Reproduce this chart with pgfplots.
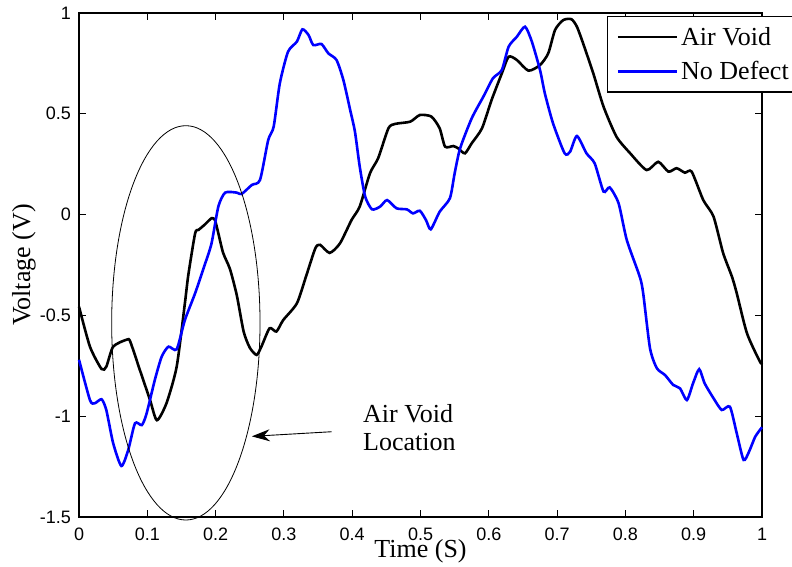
\documentclass[border=0pt]{standalone}
\usepackage{fontspec}
\setmainfont{Liberation Serif}
\newfontfamily\arial{Liberation Sans}
\usepackage{pgfplots}
\pgfplotsset{compat=1.18}
\usetikzlibrary{arrows.meta}
\begin{document}
\begin{tikzpicture}
\begin{axis}[
  scale only axis,
  width=683pt, height=504pt,
  xmin=0, xmax=1, ymin=-1.5, ymax=1,
  clip=false,
  axis line style={line width=1.3pt},
  tick align=inside,
  major tick length=7pt,
  tick style={line width=1pt, black},
  xtick={0,0.1,0.2,0.3,0.4,0.5,0.6,0.7,0.8,0.9,1},
  xticklabels={0,0.1,0.2,0.3,0.4,0.5,0.6,0.7,0.8,0.9,1},
  ytick={-1.5,-1,-0.5,0,0.5,1},
  yticklabels={-1.5,-1,-0.5,0,0.5,1},
  tick label style={font=\arial\fontsize{18}{20}\selectfont, inner sep=0pt},
  xticklabel style={anchor=north, yshift=-11pt},
  yticklabel style={anchor=east, xshift=-8pt},
  xlabel={Time (S)},
  ylabel={Voltage (V)},
  label style={font=\fontsize{26}{30}\selectfont, inner sep=0pt},
  xlabel style={at={(axis description cs:0.5,-0.0794)}, anchor=base},
  ylabel style={at={(axis description cs:-0.0717,0.5)}, anchor=base, rotate=0},
  legend style={at={(axis description cs:0.773,0.994)}, anchor=north west,
    draw=black, line width=1.2pt, inner xsep=9pt, inner ysep=3pt,
    font=\fontsize{26}{30}\selectfont,
    nodes={inner xsep=3pt, inner ysep=7.5pt}},
  legend cell align=left,
  legend image code/.code={\draw[#1] (0pt,0pt) -- (59pt,0pt);},
]
\addplot[black, line width=2.6pt, smooth, tension=0.4] coordinates {
(0,-0.457) (0.016,-0.655) (0.033,-0.766) (0.04,-0.754) (0.05,-0.655)
(0.07,-0.62) (0.075,-0.63) (0.089,-0.77) (0.104,-0.92) (0.114,-1.02)
(0.128,-0.936) (0.143,-0.754) (0.155,-0.44) (0.16,-0.3) (0.17,-0.093)
(0.175,-0.076) (0.184,-0.05) (0.194,-0.018) (0.199,-0.027) (0.204,-0.093)
(0.211,-0.19) (0.221,-0.27) (0.231,-0.40) (0.241,-0.58) (0.25,-0.66) (0.26,-0.696)
(0.267,-0.655) (0.279,-0.564) (0.289,-0.58) (0.299,-0.523) (0.319,-0.44)
(0.333,-0.3) (0.346,-0.167) (0.353,-0.15) (0.367,-0.19) (0.382,-0.143)
(0.399,-0.027) (0.411,0.04) (0.426,0.205) (0.438,0.28) (0.453,0.428)
(0.463,0.45) (0.485,0.461) (0.499,0.494) (0.516,0.486) (0.528,0.428)
(0.536,0.337) (0.548,0.34) (0.555,0.329) (0.565,0.304) (0.575,0.354)
(0.59,0.428) (0.604,0.568) (0.619,0.70) (0.629,0.783) (0.641,0.767)
(0.658,0.714) (0.675,0.742) (0.687,0.80) (0.697,0.916) (0.709,0.965)
(0.721,0.969) (0.729,0.932) (0.738,0.85) (0.753,0.70) (0.768,0.535)
(0.787,0.386) (0.807,0.304) (0.831,0.221) (0.848,0.262) (0.863,0.213)
(0.875,0.23) (0.887,0.208) (0.897,0.213) (0.914,0.072) (0.929,-0.01)
(0.943,-0.19) (0.956,-0.308) (0.963,-0.39) (0.978,-0.589) (0.997,-0.73)
(1,-0.735)
};
\addlegendentry{Air Void}
\addplot[blue, line width=2.6pt, smooth, tension=0.4] coordinates {
(0,-0.72) (0.016,-0.92) (0.023,-0.936) (0.033,-0.916) (0.04,-0.97)
(0.05,-1.134) (0.062,-1.247) (0.072,-1.168) (0.082,-1.035) (0.092,-1.044)
(0.099,-0.986) (0.111,-0.82) (0.121,-0.705) (0.131,-0.655) (0.143,-0.668)
(0.155,-0.523) (0.17,-0.39) (0.184,-0.25) (0.194,-0.143) (0.204,0.04)
(0.214,0.109) (0.231,0.109) (0.238,0.102) (0.253,0.147) (0.265,0.172)
(0.277,0.37) (0.285,0.436) (0.294,0.651) (0.306,0.808) (0.319,0.858)
(0.327,0.919) (0.336,0.891) (0.343,0.841) (0.355,0.846) (0.365,0.80)
(0.377,0.767) (0.387,0.668) (0.397,0.519) (0.404,0.411) (0.411,0.238)
(0.419,0.089) (0.429,0.026) (0.441,0.04) (0.451,0.072) (0.465,0.031)
(0.48,0.026) (0.489,0.006) (0.499,0.019) (0.508,-0.027) (0.515,-0.073)
(0.528,0.014) (0.543,0.081) (0.55,0.205) (0.558,0.329) (0.575,0.478)
(0.592,0.585) (0.606,0.676) (0.619,0.717) (0.629,0.833) (0.641,0.882)
(0.653,0.932) (0.663,0.858) (0.675,0.717) (0.682,0.602) (0.694,0.453)
(0.711,0.304) (0.719,0.312) (0.729,0.39) (0.743,0.304) (0.755,0.254)
(0.768,0.114) (0.777,0.135) (0.79,0.056) (0.802,-0.126) (0.821,-0.308)
(0.826,-0.39) (0.836,-0.663) (0.846,-0.762) (0.858,-0.796) (0.87,-0.845)
(0.88,-0.862) (0.89,-0.92) (0.899,-0.837) (0.908,-0.767) (0.916,-0.837)
(0.929,-0.911) (0.941,-0.969) (0.953,-0.953) (0.963,-1.085) (0.973,-1.217)
(0.981,-1.176) (0.99,-1.102) (1,-1.055)
};
\addlegendentry{No Defect}
\draw[black, line width=0.8pt] (axis cs:0.1564,-0.537) ellipse [x radius=0.1086, y radius=0.978];
\draw[black, line width=0.9pt, -{Stealth[length=18pt,width=12pt]}] (axis cs:0.37,-1.077) -- (axis cs:0.253,-1.10);
\node[anchor=base west, inner sep=0pt, font=\fontsize{26}{30}\selectfont] at (axis cs:0.4158,-1.0288) {Air Void};
\node[anchor=base west, inner sep=0pt, font=\fontsize{26}{30}\selectfont] at (axis cs:0.4158,-1.1677) {Location};
\coordinate (bbbl) at (axis cs:-0.1157,-1.748);
\coordinate (bbtr) at (axis cs:1.0439,1.0645);
\end{axis}
\pgfresetboundingbox
\path[use as bounding box] (bbbl) rectangle (bbtr);
\end{tikzpicture}
\end{document}
